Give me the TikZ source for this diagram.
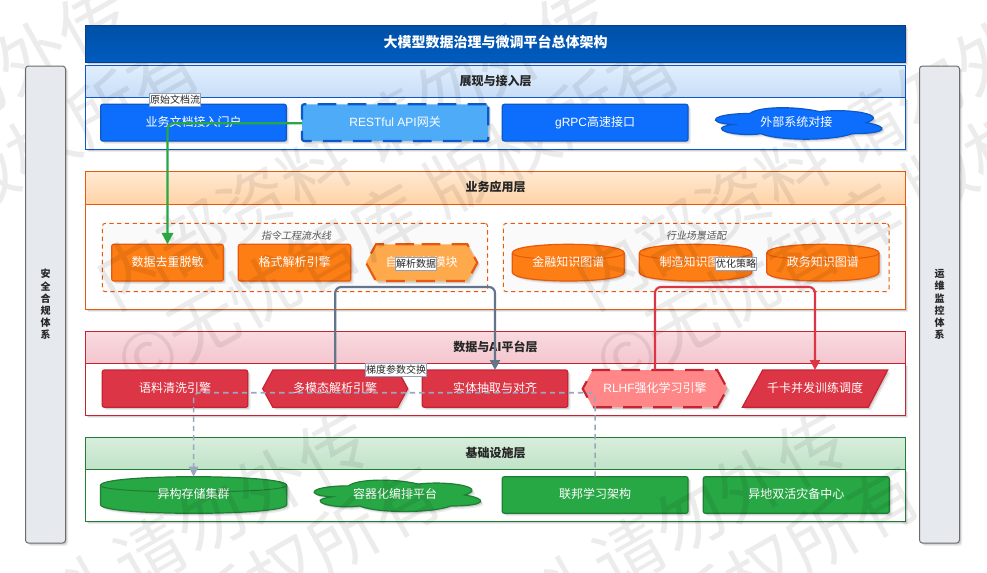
\documentclass[tikz,border=0pt]{standalone}
\usepackage{fontspec}
\setmainfont{Noto Sans CJK SC}
\newfontfamily\lat{Liberation Sans}
\newfontfamily\wmfont{Noto Sans CJK SC}
\newfontfamily\slantcjk[FakeSlant=0.2]{Noto Sans CJK SC}
\usetikzlibrary{arrows.meta,shadows,shapes.geometric,shapes.symbols}
\definecolor{bluef}{HTML}{0D6EFD}\definecolor{blued}{HTML}{0A58CA}
\definecolor{bluel}{HTML}{4DABF7}
\definecolor{oranf}{HTML}{FD7E14}\definecolor{orand}{HTML}{E8590C}
\definecolor{oranl}{HTML}{FFA94D}
\definecolor{redf}{HTML}{DC3545}\definecolor{redd}{HTML}{C82333}
\definecolor{redl}{HTML}{FF8787}
\definecolor{grnf}{HTML}{28A745}\definecolor{grnd}{HTML}{1E7E34}
\definecolor{steel}{HTML}{64748B}\definecolor{dashc}{HTML}{9AA5BF}
\definecolor{sidec}{HTML}{E6EAEE}\definecolor{tagc}{HTML}{8FA3BF}
\definecolor{ha}{HTML}{E0EFFF}\definecolor{hb}{HTML}{C8DDF6}
\definecolor{hc}{HTML}{FFE9D2}\definecolor{hd}{HTML}{FFD3A6}
\definecolor{he}{HTML}{F9DADF}\definecolor{hf}{HTML}{F3C6CE}
\definecolor{hg}{HTML}{D8EEDC}\definecolor{hh}{HTML}{C0E2C8}
\definecolor{ta}{HTML}{0050A6}\definecolor{tb}{HTML}{005CBF}
\tikzset{
 x=0.75pt,y=-0.75pt,
 span/.style n args={4}{at={({(#1+#3)/2},{(#2+#4)/2})},minimum width={(#3-#1)*0.75pt},minimum height={(#4-#2)*0.75pt}},
 base/.style={inner sep=0pt,outer sep=0pt,align=center},
 soft/.style={drop shadow={shadow xshift=2.2pt,shadow yshift=-2.2pt,fill=black,opacity=.07},drop shadow={shadow xshift=1.2pt,shadow yshift=-1.2pt,fill=black,opacity=.12}},
 nodetxt/.style={base,text=white,text height=7pt,text depth=1.5pt,font=\fontsize{9pt}{11pt}\selectfont},
 framebody/.style={base,rectangle,draw=#1,line width=.75pt,fill=white,soft},
 band/.style n args={3}{base,rectangle,draw=#1,line width=.75pt,top color=#2,bottom color=#3,text=black!85,text height=7pt,text depth=1.5pt,font=\fontsize{9pt}{11pt}\selectfont\bfseries},
 sidebar/.style={base,rectangle,rounded corners=2.2pt,draw=gray!85!black,line width=.75pt,fill=sidec,soft,text=black!85,font=\fontsize{7.5pt}{9.15pt}\selectfont\bfseries},
 groupbox/.style={base,rectangle,rounded corners=2.2pt,draw=orand,line width=.75pt,dash pattern=on 3.2pt off 2.6pt,fill=black!2},
 grouptxt/.style={base,text=black!65,font=\fontsize{7.5pt}{9pt}\selectfont\slantcjk},
 rectn/.style n args={2}{nodetxt,rectangle,rounded corners=1.5pt,fill=#1,draw=#2,line width=.9pt,soft},
 hexn/.style n args={2}{nodetxt,signal,signal to=west and east,signal pointer angle=123,fill=#1,draw=#2,line width=.9pt,soft},
 dashedge/.style={line width=1.6pt,dash pattern=on 14pt off 8.5pt},
 tag/.style={base,rectangle,fill=white,draw=tagc,line width=.6pt,text=black!85,font=\fontsize{7.5pt}{9pt}\selectfont},
 wmark/.style={base,rotate=29.5,text=black,text opacity=.075,font=\fontsize{52.5pt}{56pt}\selectfont\wmfont},
 flow/.style n args={2}{draw=#1,line width=1.6pt,rounded corners=4.5pt,-{Triangle[width=#2,length=#2,fill=#1]}},
}
% cylinder outline: x1 y1 x2 y2 fill draw
\newcommand{\cylpath}[6]{%
 \pgfmathsetmacro\cdy{8.7}\pgfmathsetmacro\cya{#2+\cdy}\pgfmathsetmacro\cyb{#4-\cdy}%
 \pgfmathsetmacro\cyc{#2-\cdy/3}\pgfmathsetmacro\cyd{#4+\cdy/3}\pgfmathsetmacro\cye{#2+2*\cdy}%
 \path[fill=#5,draw=#6,line width=.9pt,soft] (#1,\cya) .. controls (#1,\cyc) and (#3,\cyc) .. (#3,\cya) -- (#3,\cyb) .. controls (#3,\cyd) and (#1,\cyd) .. (#1,\cyb) -- cycle;
 \draw[#6,line width=.75pt] (#1,\cya) .. controls (#1,\cye) and (#3,\cye) .. (#3,\cya);}
% cloud outline: x1 y1 x2 y2 fill draw
\newcommand{\cloudpath}[6]{%
 \pgfmathsetmacro\cw{(#3-#1)*0.75}\pgfmathsetmacro\ch{(#4-#2)*0.75*(-1)}%
 \begin{scope}[shift={(#1,#2)},x=\cw pt,y=\ch pt]
 \path[fill=#5,draw=#6,line width=.9pt,soft] (.25,.25) .. controls (.05,.25) and (0,.5) .. (.16,.55) .. controls (0,.66) and (.18,.9) .. (.31,.8) .. controls (.4,1) and (.7,1) .. (.8,.8) .. controls (1,.8) and (1,.6) .. (.875,.5) .. controls (1,.3) and (.8,.1) .. (.625,.2) .. controls (.5,.05) and (.3,.05) .. (.25,.25) -- cycle;
 \end{scope}}
\begin{document}
\begin{tikzpicture}
\useasboundingbox (0,0) rectangle (987,572);
\fill[white] (0,0) rectangle (987,572);
% layers
\node[framebody=blued,span={85.5}{97.5}{905.5}{149.5}] (body1) {};
\node[band={blued}{ha}{hb},span={85.5}{65.5}{905.5}{97.5}] (head1) {展现与接入层};
\node[framebody=orand,span={85.5}{204}{905.5}{309.5}] (body2) {};
\node[band={orand}{hc}{hd},span={85.5}{171.5}{905.5}{204}] (head2) {业务应用层};
\node[framebody=redd,span={85.5}{363.5}{905.5}{415.5}] (body3) {};
\node[band={redd}{he}{hf},span={85.5}{331.5}{905.5}{363.5}] (head3) {数据与AI平台层};
\node[framebody=grnd,span={85.5}{469.5}{905.5}{521.5}] (body4) {};
\node[band={grnd}{hg}{hh},span={85.5}{437.5}{905.5}{469.5}] (head4) {基础设施层};
% groups
\node[groupbox,span={102.3}{223.3}{487.7}{291.7}] (grp1) {};
\node[grouptxt] (grp1t) at (296,236) {指令工程流水线};
\node[groupbox,span={503.3}{223.3}{889}{291.7}] (grp2) {};
\node[grouptxt] (grp2t) at (696,236) {行业场景适配};
% orange nodes
\node[rectn={oranf}{orand},span={111.7}{244.3}{223.3}{281}] (o1) {数据去重脱敏};
\node[rectn={oranf}{orand},span={238.3}{244.3}{350.7}{281}] (o2) {格式解析引擎};
\node[hexn={oranl}{orand},dashedge,span={366}{244.3}{477.3}{281}] (o3) {自动标注模块};
\cylpath{512.3}{244.3}{624.3}{281}{oranf}{orand}
\node[nodetxt,span={512.3}{244.3}{624.3}{281}] (o4) {金融知识图谱};
\cylpath{639.3}{244.3}{751.7}{281}{oranf}{orand}
\node[nodetxt,span={639.3}{244.3}{751.7}{281}] (o5) {制造知识图谱};
\cylpath{766.7}{244.3}{879}{281}{oranf}{orand}
\node[nodetxt,span={766.7}{244.3}{879}{281}] (o6) {政务知识图谱};
% green nodes
\cylpath{100.5}{476.7}{286.7}{513.3}{grnf}{grnd}
\node[nodetxt,span={100.5}{476.7}{286.7}{513.3}] (g1) {异构存储集群};
\cloudpath{302}{476.7}{488}{513.3}{grnf}{grnd}
\node[nodetxt,span={302}{476.7}{488}{513.3}] (g2) {容器化编排平台};
\node[rectn={grnf}{grnd},span={502.3}{476.7}{688}{513.3}] (g3) {联邦学习架构};
\node[rectn={grnf}{grnd},span={703.3}{476.7}{889.3}{513.3}] (g4) {异地双活灾备中心};
% watermark
\begin{scope}
\clip (0,0) rectangle (987,572);
\foreach \j in {-1,0,1}{\foreach \i in {-1,0,1,2}{
 \pgfmathsetmacro\ox{\i*479+\j*240}\pgfmathsetmacro\oy{\j*427}
 \node[wmark] (wa\i\j) at ({352+\ox},{147+\oy}) {内部资料 请勿外传};
 \node[wmark] (wb\i\j) at ({398+\ox},{214+\oy}) {©无忧智库 版权所有};
}}
\end{scope}
% title and side bars
\node[base,rectangle,draw=blued!70!black,line width=.75pt,top color=ta,bottom color=tb,soft,text=white,text height=8pt,text depth=2pt,font=\fontsize{10.5pt}{12pt}\selectfont\bfseries,span={85.5}{25.5}{905.5}{62}] (title) {大模型数据治理与微调平台总体架构};
\node[sidebar,span={25.5}{66}{65.5}{543}] (left) {安\\全\\合\\规\\体\\系};
\node[sidebar,span={919.5}{66}{959.5}{543}] (right) {运\\维\\监\\控\\体\\系};
% blue nodes
\node[rectn={bluef}{blued},span={100.7}{104.3}{286.3}{141}] (b1) {业务文档接入门户};
\node[rectn={bluel}{blued},dashedge,span={302}{104.3}{488.3}{141}] (b2) {{\lat RESTful API}网关};
\node[rectn={bluef}{blued},span={502.3}{104.3}{688}{141}] (b3) {{\lat gRPC}高速接口};
\cloudpath{703.3}{104.3}{889.3}{141}{bluef}{blued}
\node[nodetxt,span={703.3}{104.3}{889.3}{141}] (b4) {外部系统对接};
% red nodes
\node[rectn={redf}{redd},span={102.3}{370}{247.7}{407.3}] (r1) {语料清洗引擎};
\node[hexn={redf}{redd},span={262.7}{370}{407.7}{407.3}] (r2) {多模态解析引擎};
\node[rectn={redf}{redd},span={422.3}{370}{567.7}{407.3}] (r3) {实体抽取与对齐};
\node[hexn={redl}{redd},dashedge,span={582.7}{370}{727.3}{407.3}] (r4) {{\lat RLHF}强化学习引擎};
\path[fill=redf,draw=redd,line width=.9pt,soft] (742.3,407.3) -- (762.7,370) -- (887.7,370) -- (868.3,407.3) -- cycle;
\node[nodetxt,span={742.3}{370}{887.7}{407.3}] (r5) {千卡并发训练调度};
% connectors
\coordinate (lvA) at (0,123.3);
\coordinate (lvB) at (0,287);
\coordinate (lvC) at (0,392.7);
\draw[flow={grnf}{8.5pt}] (b2.west |- lvA) -- (o1.north |- lvA) -- (o1.north);
\draw[flow={steel}{7.5pt}] (r2.north) -- (r2.north |- lvB) -- (r3.north |- lvB) -- (r3.north);
\draw[flow={redf}{7.5pt}] (r4.north) -- (r4.north |- lvB) -- (r5.north |- lvB) -- (r5.north);
\draw[draw=dashc,line width=1.2pt,rounded corners=4.5pt,dash pattern=on 4pt off 3pt,-{Triangle[width=7pt,length=7.5pt,fill=dashc]}] (g3.north) -- (g3.north |- lvC) -- (g1.north |- lvC) -- (g1.north);
% labels
\node[tag,span={149.3}{93.3}{200.7}{106}] (t1) {原始文档流};
\node[tag,span={395.7}{257.3}{436.7}{270}] (t2) {解析数据};
\node[tag,span={715.7}{257.3}{756.7}{270}] (t3) {优化策略};
\node[tag,span={365.7}{363.3}{426.7}{376.7}] (t4) {梯度参数交换};
\end{tikzpicture}
\end{document}
